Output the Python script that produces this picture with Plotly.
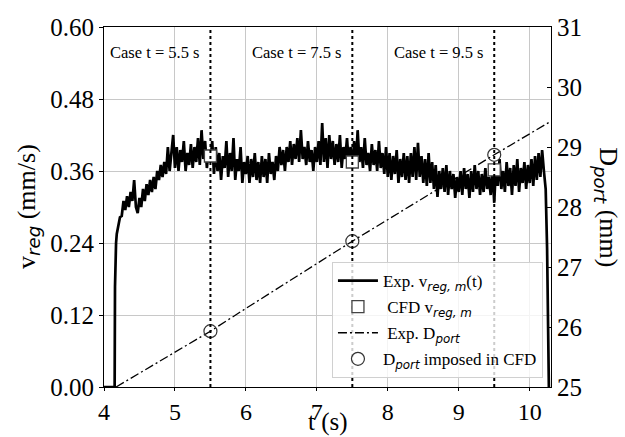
import plotly.graph_objects as go

# ---- data ----
# start-up transient of the regression rate (s, mm/s)
t_startup = [4.0, 4.15, 4.155, 4.16, 4.165, 4.17, 4.18, 4.2, 4.225]
v_startup = [0.0, 0.0, 0.167, 0.20, 0.225, 0.24, 0.255, 0.27, 0.283]

# noisy part sampled every 0.025 s starting at 4.25 s
t0_noisy = 4.25
dt_noisy = 0.025
v_noisy = [
    0.285, 0.31, 0.295, 0.318, 0.30, 0.325, 0.31, 0.345, 0.30, 0.29,
    0.315, 0.30, 0.33, 0.31, 0.338, 0.32, 0.345, 0.325, 0.35, 0.33,
    0.36, 0.345, 0.37, 0.35, 0.375, 0.355, 0.40, 0.36, 0.39, 0.42,
    0.365, 0.40, 0.36, 0.395, 0.375, 0.41, 0.36, 0.39, 0.37, 0.405,
    0.365, 0.40, 0.375, 0.415, 0.37, 0.428, 0.38, 0.41, 0.365, 0.395,
    0.375, 0.41, 0.355, 0.40, 0.36, 0.39, 0.345, 0.385, 0.365, 0.41,
    0.35, 0.39, 0.36, 0.415, 0.345, 0.38, 0.36, 0.40, 0.34, 0.375,
    0.355, 0.385, 0.34, 0.38, 0.35, 0.39, 0.345, 0.375, 0.34, 0.385,
    0.35, 0.38, 0.34, 0.39, 0.355, 0.375, 0.345, 0.385, 0.36, 0.40,
    0.37, 0.395, 0.36, 0.40, 0.375, 0.41, 0.37, 0.405, 0.38, 0.415,
    0.375, 0.428, 0.38, 0.40, 0.37, 0.41, 0.375, 0.395, 0.36, 0.40,
    0.375, 0.41, 0.37, 0.44, 0.375, 0.415, 0.365, 0.42, 0.38, 0.41,
    0.37, 0.405, 0.375, 0.42, 0.365, 0.40, 0.38, 0.415, 0.37, 0.40,
    0.365, 0.41, 0.37, 0.428, 0.375, 0.40, 0.365, 0.415, 0.37, 0.39,
    0.36, 0.405, 0.37, 0.395, 0.36, 0.41, 0.365, 0.39, 0.355, 0.40,
    0.35, 0.39, 0.345, 0.385, 0.355, 0.395, 0.34, 0.38, 0.35, 0.39,
    0.345, 0.385, 0.34, 0.39, 0.35, 0.40, 0.345, 0.407, 0.35, 0.385,
    0.34, 0.38, 0.335, 0.39, 0.34, 0.375, 0.33, 0.37, 0.317, 0.36,
    0.33, 0.365, 0.325, 0.37, 0.32, 0.36, 0.33, 0.355, 0.315, 0.35,
    0.325, 0.36, 0.32, 0.365, 0.33, 0.355, 0.315, 0.36, 0.325, 0.37,
    0.33, 0.36, 0.32, 0.355, 0.325, 0.365, 0.33, 0.35, 0.32, 0.36,
    0.307, 0.37, 0.335, 0.38, 0.33, 0.36, 0.325, 0.375, 0.335, 0.365,
    0.32, 0.37, 0.335, 0.38, 0.325, 0.365, 0.34, 0.375, 0.33, 0.37,
    0.34, 0.38, 0.335, 0.385, 0.345, 0.39, 0.35, 0.395,
]

# shut-down transient
t_end = [10.2, 10.225, 10.245, 10.26, 10.27]
v_end = [0.36, 0.33, 0.23, 0.10, 0.0]

# CFD cases
t_cases = [5.5, 7.5, 9.5]
v_cfd = [0.385, 0.375, 0.362]
d_cfd = [25.93, 27.43, 28.87]
case_labels = ["Case t = 5.5 s", "Case t = 7.5 s", "Case t = 9.5 s"]

# experimental port diameter (mm)
t_port = [4.17, 5.0, 5.5, 6.0, 7.5, 9.5, 10.3]
d_port = [25.0, 25.58, 25.93, 26.31, 27.43, 28.87, 29.43]

x_ticks = [4, 5, 6, 7, 8, 9, 10]
y_ticks = [0.00, 0.12, 0.24, 0.36, 0.48, 0.60]
y2_ticks = [25, 26, 27, 28, 29, 30, 31]

# ---- build the exp. series ----
t_noisy = [t0_noisy + i * dt_noisy for i in range(len(v_noisy))]
t_exp = t_startup + t_noisy + t_end
v_exp = v_startup + v_noisy + v_end

SERIF = "Liberation Serif"
SANS_IT = "font-family:DejaVu Sans;font-style:italic"


def sub(s):
    return "<sub><span style='%s'>%s</span></sub>" % (SANS_IT, s)


fig = go.Figure()

fig.add_trace(go.Scatter(
    x=t_exp, y=v_exp, mode="lines", legendgroup="a",
    line=dict(color="black", width=2.7),
    name="Exp. v" + sub("reg, m") + "(t)",
))
fig.add_trace(go.Scatter(
    x=t_cases, y=v_cfd, mode="markers", legendgroup="b",
    marker=dict(symbol="square", size=12, color="white",
                line=dict(color="#444", width=1.3)),
    name="&nbsp;CFD v" + sub("reg, m"),
))
fig.add_trace(go.Scatter(
    x=t_port, y=d_port, mode="lines", yaxis="y2", legendgroup="c",
    line=dict(color="black", width=1.3, dash="9px,3px,2px,3px"),
    name="&nbsp;Exp. D" + sub("port"),
))
fig.add_trace(go.Scatter(
    x=t_cases, y=d_cfd, mode="markers", yaxis="y2", legendgroup="d",
    marker=dict(symbol="circle-open", size=13, color="#333",
                line=dict(width=1.2)),
    name="D" + sub("port") + " imposed in CFD",
))

shapes = []
for tc in t_cases:
    shapes.append(dict(type="line", xref="x", yref="paper", x0=tc, x1=tc,
                       y0=0, y1=1, line=dict(color="black", width=2, dash="dot"),
                       layer="above"))

annotations = []
for tc, lab in zip(t_cases, case_labels):
    annotations.append(dict(x=tc, y=0.928, xref="x", yref="paper", text=lab,
                            showarrow=False, xanchor="right", yanchor="middle",
                            xshift=-8, font=dict(family=SERIF, size=16.5, color="black")))

# axis titles as annotations
annotations.append(dict(x=0.5, y=-0.098, xref="paper", yref="paper", text="t (s)",
                        showarrow=False, xanchor="center", yanchor="middle",
                        font=dict(family=SERIF, size=25, color="black")))
annotations.append(dict(x=-0.17, y=0.5, xref="paper", yref="paper",
                        text="v" + sub("reg") + " (mm/s)", textangle=-90,
                        showarrow=False, xanchor="center", yanchor="middle",
                        font=dict(family=SERIF, size=26, color="black")))
annotations.append(dict(x=1.125, y=0.5, xref="paper", yref="paper",
                        text="D" + sub("port") + " (mm)", textangle=90,
                        showarrow=False, xanchor="center", yanchor="middle",
                        font=dict(family=SERIF, size=26, color="black")))

tick_font = dict(family=SERIF, size=25, color="black")

fig.update_layout(
    width=625, height=437,
    margin=dict(l=104, r=74, t=27, b=50, autoexpand=False),
    paper_bgcolor="white", plot_bgcolor="white",
    font=dict(family=SERIF, color="black"),
    showlegend=True,
    legend=dict(x=0.982, y=0.025, xanchor="right", yanchor="bottom",
                bgcolor="rgba(255,255,255,0.8)", bordercolor="#d0d0d0",
                borderwidth=1, font=dict(family=SERIF, size=17),
                tracegroupgap=1, itemwidth=40),
    xaxis=dict(range=[4, 10.3], tickvals=x_ticks, ticktext=[str(v) for v in x_ticks],
               showgrid=True, gridcolor="#c8c8c8", gridwidth=1,
               showline=True, linecolor="black", linewidth=1, mirror=True,
               ticks="outside", ticklen=3, tickcolor="black",
               tickfont=dict(family=SERIF, size=24, color="black"),
               automargin=False, zeroline=False),
    yaxis=dict(range=[0, 0.6], tickvals=y_ticks, ticktext=["%.2f" % v for v in y_ticks],
               showgrid=True, gridcolor="#c8c8c8", gridwidth=1,
               showline=True, linecolor="black", linewidth=1,
               ticks="outside", ticklen=4, tickcolor="black",
               tickfont=tick_font, automargin=False, zeroline=False),
    yaxis2=dict(range=[25, 31], tickvals=y2_ticks, ticktext=[str(v) for v in y2_ticks],
                overlaying="y", side="right", showgrid=False,
                showline=True, linecolor="black", linewidth=1,
                ticks="inside", ticklen=4, tickcolor="black",
                tickfont=tick_font, automargin=False, zeroline=False),
    shapes=shapes,
    annotations=annotations,
)

fig.write_html("out.html", config={"displayModeBar": False},
               post_script="document.body.style.margin='0px';")
